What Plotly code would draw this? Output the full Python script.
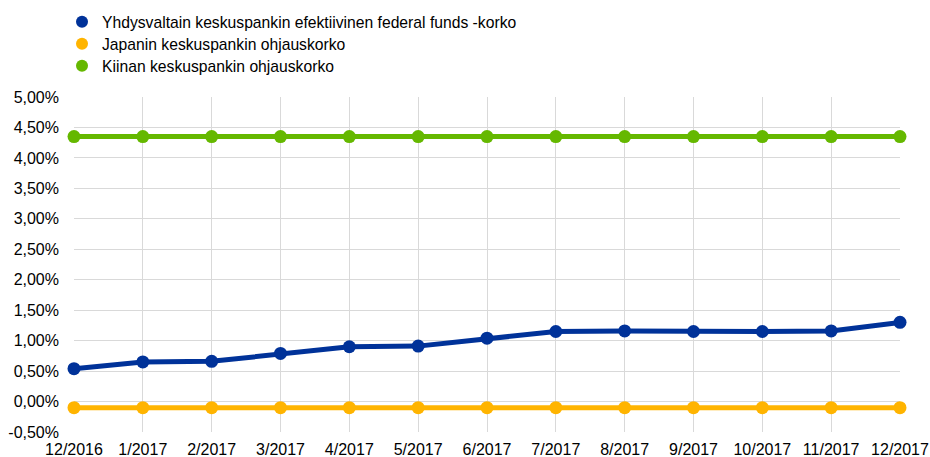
import plotly.graph_objects as go

categories = ["12/2016", "1/2017", "2/2017", "3/2017", "4/2017", "5/2017", "6/2017",
              "7/2017", "8/2017", "9/2017", "10/2017", "11/2017", "12/2017"]
us_rate = [0.54, 0.65, 0.66, 0.79, 0.90, 0.91, 1.04, 1.15, 1.16, 1.15, 1.15, 1.16, 1.30]
japan_rate = [-0.10] * 13
china_rate = [4.35] * 13

y_tick_values = [-0.5, 0.0, 0.5, 1.0, 1.5, 2.0, 2.5, 3.0, 3.5, 4.0, 4.5, 5.0]
y_tick_labels = ["-0,50%", "0,00%", "0,50%", "1,00%", "1,50%", "2,00%", "2,50%",
                 "3,00%", "3,50%", "4,00%", "4,50%", "5,00%"]

names = ["Yhdysvaltain keskuspankin efektiivinen federal funds -korko",
         "Japanin keskuspankin ohjauskorko",
         "Kiinan keskuspankin ohjauskorko"]
colors = ["#003299", "#FFB400", "#65B800"]
series = [us_rate, japan_rate, china_rate]

W, H = 930, 457
ML, MR, MT, MB = 74, 30, 97, 25
fig = go.Figure()
for vals, col, nm in zip(series, colors, names):
    fig.add_trace(go.Scatter(x=categories, y=vals, mode="lines+markers", name=nm,
                             line=dict(color=col, width=5),
                             marker=dict(color=col, size=13),
                             showlegend=False, cliponaxis=False))
legend_ids = ["legend", "legend2", "legend3"]
for col, nm, lid in zip(colors, names, legend_ids):
    fig.add_trace(go.Scatter(x=[None], y=[None], mode="markers", name=nm,
                             marker=dict(color=col, size=13), showlegend=True,
                             legend=lid))

row_centers = [22, 44, 66]  # px from top
leg_common = dict(xref="paper", x=(62 - ML) / (W - ML - MR), xanchor="left",
                  yref="container", yanchor="middle", font=dict(size=15.7),
                  itemsizing="constant", bgcolor="rgba(0,0,0,0)", borderwidth=0)
fig.update_layout(
    width=W, height=H,
    margin=dict(l=ML, r=MR, t=MT, b=MB),
    paper_bgcolor="white", plot_bgcolor="white",
    font=dict(family="Liberation Sans, Arial, sans-serif", size=16, color="#000000"),
    legend=dict(y=1 - row_centers[0] / H, **leg_common),
    legend2=dict(y=1 - row_centers[1] / H, **leg_common),
    legend3=dict(y=1 - row_centers[2] / H, **leg_common),
    showlegend=True,
)
fig.update_xaxes(type="category", range=[0, 12], showgrid=True, gridcolor="#D9D9D9",
                 gridwidth=1, showline=False, zeroline=False, ticks="",
                 tickfont=dict(size=16), ticklabelstandoff=6, automargin=False)
fig.update_yaxes(range=[-0.5, 5.0], tickmode="array", tickvals=y_tick_values,
                 ticktext=y_tick_labels, showgrid=True,
                 gridcolor="#D9D9D9", gridwidth=1, zeroline=False, showline=False,
                 ticks="", tickfont=dict(size=16),
                 ticklabelstandoff=14, automargin=False)

fig.write_html("out.html", config={"displayModeBar": False},
               post_script="document.body.style.margin='0px';"
                           "document.body.style.overflow='hidden';")
